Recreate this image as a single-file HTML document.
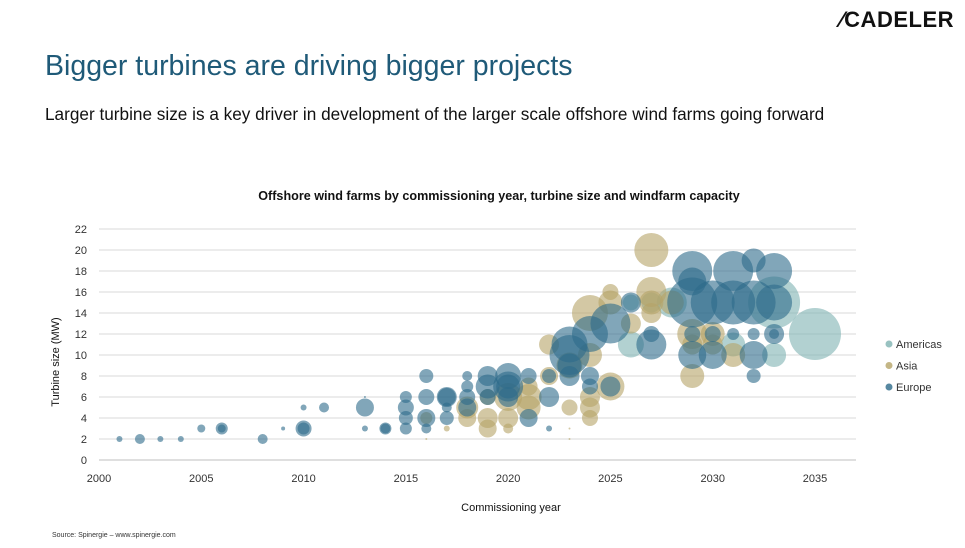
<!DOCTYPE html>
<html><head><meta charset="utf-8"><style>
body{margin:0;background:#fff;width:965px;height:548px;overflow:hidden;font-family:"Liberation Sans",sans-serif;position:relative}
.t{position:absolute;white-space:nowrap}
</style></head><body>
<div class="t" style="left:840px;top:7px;font-size:22px;font-weight:bold;color:#111;letter-spacing:0.5px">⁄CADELER</div>
<div class="t" style="left:45px;top:50px;font-size:28.5px;color:#1f5a78">Bigger turbines are driving bigger projects</div>
<div class="t" style="left:45px;top:104px;font-size:17.2px;color:#111">Larger turbine size is a key driver in development of the larger scale offshore wind farms going forward</div>
<div class="t" style="left:52px;top:532px;font-size:7px;color:#333">Source: Spinergie – www.spinergie.com</div>
<svg id="chart" width="965" height="548" style="position:absolute;left:0;top:0"></svg>
<script>
const regions=["Americas","Asia","Europe"];
const colors={Americas:"#7fb3b2",Asia:"#b5a468",Europe:"#2d6a8a"};
const yTicks=[0,2,4,6,8,10,12,14,16,18,20,22];
const xTicks=[2000,2005,2010,2015,2020,2025,2030,2035];
// [year, turbine MW, radius-unit capacity]
const americas=[[2026,11,13],[2026,15,8],[2027,15,10],[2028,15,15],[2031,11,12],[2033,15,26],[2033,10,12],[2035,12,26]];
const asia=[[2016,4,6],[2016,2,1],[2017,3,3],[2018,4,9],[2018,5,11],[2019,3,9],[2019,4,10],[2019,6,8],[2020,4,10],[2020,6,14],[2020,3,5],[2021,5,12],[2021,6,13],[2021,7,9],[2022,11,10],[2022,8,9],[2023,9,13],[2023,5,8],[2023,3,1],[2023,2,1],[2024,14,18],[2024,5,10],[2024,4,8],[2024,10,12],[2024,6,10],[2025,15,12],[2025,7,14],[2025,16,8],[2026,13,10],[2027,20,17],[2027,16,15],[2027,15,12],[2027,14,10],[2028,15,12],[2029,12,15],[2029,8,12],[2029,11,10],[2030,12,12],[2030,11,10],[2031,10,12]];
const europe=[[2001,2,3],[2002,2,5],[2003,2,3],[2004,2,3],[2005,3,4],[2006,3,4],[2006,3,6],[2008,2,5],[2009,3,2],[2010,3,8],[2010,3,6],[2010,5,3],[2011,5,5],[2013,5,9],[2013,6,1],[2013,3,3],[2014,3,6],[2014,3,5],[2015,5,8],[2015,6,6],[2015,4,7],[2015,3,6],[2016,8,7],[2016,6,8],[2016,4,9],[2016,3,5],[2017,6,10],[2017,6,9],[2017,4,7],[2017,5,5],[2018,8,5],[2018,7,6],[2018,6,8],[2018,5,9],[2019,7,12],[2019,8,10],[2019,6,8],[2020,8,13],[2020,7,12],[2020,7,15],[2020,6,10],[2021,4,9],[2021,8,8],[2022,6,10],[2022,8,7],[2022,3,3],[2023,11,18],[2023,10,20],[2023,8,10],[2023,9,12],[2024,12,18],[2024,7,8],[2024,8,9],[2025,13,20],[2025,7,10],[2026,15,10],[2027,11,15],[2027,12,8],[2029,18,20],[2029,17,14],[2029,15,25],[2029,10,14],[2029,12,8],[2030,15,22],[2030,10,14],[2030,12,8],[2031,15,22],[2031,18,20],[2031,12,6],[2032,19,12],[2032,15,22],[2032,12,6],[2032,8,7],[2032,10,14],[2033,15,18],[2033,18,18],[2033,12,10],[2033,12,5]];
const series={Americas:americas,Asia:asia,Europe:europe};
const X0=99,X1=815,Y0=460,Y1=229;
const xs=v=>X0+(v-2000)*(X1-X0)/35;
const ys=v=>Y0-v*(Y0-Y1)/22;
const rs=v=>v;
const svg=document.getElementById('chart');const NS="http://www.w3.org/2000/svg";
function mk(tag,a,txt){const e=document.createElementNS(NS,tag);for(const k in a)e.setAttribute(k,a[k]);if(txt!==undefined)e.textContent=txt;svg.appendChild(e);return e;}
yTicks.forEach(v=>{
 const l=mk('line',{x1:99,x2:856,y1:ys(v),y2:ys(v),stroke:v===0?'#bfbfbf':'#d9d9d9','stroke-width':1});
 
 
 const t=mk('text',{x:87,y:ys(v)+4,'text-anchor':'end','font-size':11,fill:'#333','font-family':'Liberation Sans'},v);
 
 
});
xTicks.forEach(v=>{
 const t=mk('text',{x:xs(v),y:482,'text-anchor':'middle','font-size':11,fill:'#333','font-family':'Liberation Sans'},v);
 
 
});
regions.forEach(r=>{series[r].forEach(d=>{
 const c=mk('circle',{cx:xs(d[0]),cy:ys(d[1]),r:rs(d[2]),fill:colors[r],'fill-opacity':0.6});
 
 
});});
let t=mk('text',{x:499,y:200,'text-anchor':'middle','font-size':12.6,'font-weight':'bold',fill:'#111','font-family':'Liberation Sans'},'Offshore wind farms by commissioning year, turbine size and windfarm capacity');


t=mk('text',{x:511,y:511,'text-anchor':'middle','font-size':11,fill:'#111','font-family':'Liberation Sans'},'Commissioning year');


t=mk('text',{x:0,y:0,'text-anchor':'middle','font-size':11,fill:'#111','font-family':'Liberation Sans',transform:'translate(59,362) rotate(-90)'},'Turbine size (MW)');


regions.forEach((r,i)=>{
 const y=344+i*21.5;
 const c=mk('circle',{cx:889,cy:y,r:3.5,fill:colors[r],'fill-opacity':0.8});
 
 
 const tt=mk('text',{x:896,y:y+4,'font-size':11,fill:'#333','font-family':'Liberation Sans'},r);
 
 
});
</script>
</body></html>
